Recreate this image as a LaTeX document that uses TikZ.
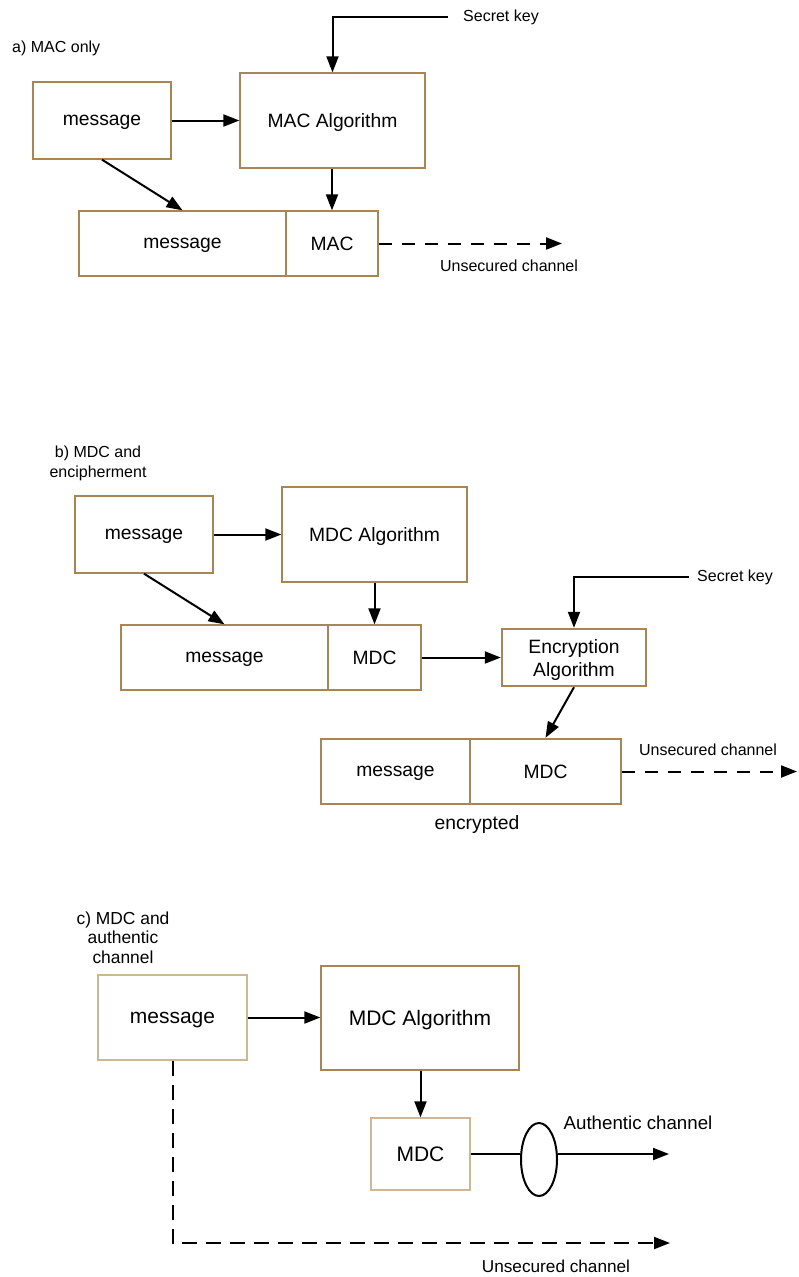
\documentclass[tikz,border=0pt]{standalone}
\usepackage{fontspec}
\setmainfont{Liberation Sans}
\usetikzlibrary{arrows.meta,shapes.geometric}
\definecolor{boxbrown}{RGB}{168,134,84}
\definecolor{boxtan}{RGB}{205,184,150}
\newcommand{\fbig}{\fontsize{19.3}{23}\selectfont}
\newcommand{\fhuge}{\fontsize{21}{25}\selectfont}
\newcommand{\fsmall}{\fontsize{16}{19.5}\selectfont}
\begin{document}
\begin{tikzpicture}[x=1pt,y=-1pt,
  box/.style={draw=boxbrown,line width=1.3pt,inner sep=0pt,font=\fbig,align=center,text depth=0pt},
  heavybox/.style={box,line width=2.4pt},
  flow/.style={draw=black,line width=2pt,-{Triangle[length=16pt,width=12pt]}},
  plain/.style={draw=black,line width=2pt},
  dashflow/.style={flow,dash pattern=on 13pt off 10pt},
  dashflowc/.style={flow,dash pattern=on 15pt off 9pt},
  note/.style={font=\fsmall,inner sep=0pt,align=center}]
\useasboundingbox (0,0) rectangle (798,1277);

% ---------- a) MAC only ----------
\node[note,anchor=west] (la) at (12,48) {a) MAC only};
\node[box,minimum width=138pt,minimum height=77pt] (amsg) at (102,120.5) {message};
\node[box,minimum width=185pt,minimum height=95pt] (aalg) at (332.5,120.5) {MAC Algorithm};
\node[box,minimum width=207pt,minimum height=65pt] (amsg2) at (182.5,243.5) {message};
\node[box,minimum width=92pt,minimum height=65pt] (amac) at (332,243.5) {MAC};
\coordinate (akey) at (448,17);
\node[note,anchor=west] (akeyt) at (463,17) {Secret key};
\draw[flow] (akey) -- (aalg.north |- akey) -- (aalg.north);
\draw[flow] (amsg) -- (aalg);
\draw[flow] (amsg.south) -- (amsg2.north);
\draw[flow] (aalg.south -| amac.north) -- (amac.north);
\coordinate (aout) at (562,243.5);
\draw[dashflow] (amac.east) -- (aout);
\node[note] (aunsec) at (509,266) {Unsecured channel};

% ---------- b) MDC and encipherment ----------
\node[note] (lb) at (98,463.5) {b) MDC and\\encipherment};
\node[box,minimum width=138pt,minimum height=77pt] (bmsg) at (144,534.5) {message};
\node[box,minimum width=185pt,minimum height=95pt] (balg) at (374.5,534.5) {MDC Algorithm};
\node[box,minimum width=207pt,minimum height=65pt] (bmsg2) at (224.5,657.5) {message};
\node[box,minimum width=93pt,minimum height=65pt] (bmdc) at (374.5,657.5) {MDC};
\node[heavybox,minimum width=144pt,minimum height=57pt] (benc) at (574,657.5)
  {\fontsize{19.3}{21}\selectfont Encryption\\Algorithm};
\node[heavybox,minimum width=149pt,minimum height=65pt] (bemsg) at (395.5,771.5) {message};
\node[heavybox,minimum width=151pt,minimum height=65pt] (bemdc) at (545.5,771.5) {MDC};
\coordinate (bkey) at (689,577);
\node[note,anchor=west] (bkeyt) at (697,577) {Secret key};
\draw[flow] (bkey) -- (benc.north |- bkey) -- (benc.north);
\draw[flow] (bmsg) -- (balg);
\draw[flow] (bmsg.south) -- (bmsg2.north);
\draw[flow] (balg.south) -- (bmdc.north);
\draw[flow] (bmdc.east) -- (benc.west);
\draw[flow] (benc.south) -- (bemdc.north);
\coordinate (bout) at (797,771.5);
\draw[dashflow] (bemdc.east) -- (bout);
\node[note] (bunsec) at (708,750) {Unsecured channel};
\node[font=\fbig,inner sep=0pt] (benct) at (477,824) {encrypted};

% ---------- c) MDC and authentic channel ----------
\node[note,font=\fontsize{17.4}{19.5}\selectfont] (lc) at (123,937.5) {c) MDC and\\authentic\\channel};
\node[box,draw=boxtan,minimum width=149pt,minimum height=85pt,font=\fhuge] (cmsg) at (172.5,1017.5) {message};
\node[box,minimum width=198pt,minimum height=104pt,font=\fhuge] (calg) at (420,1018) {MDC Algorithm};
\node[box,draw=boxtan,minimum width=99pt,minimum height=72pt,font=\fhuge] (cmdc) at (420.5,1154) {MDC};
\node[draw=black,line width=2pt,ellipse,minimum width=36pt,minimum height=73pt,inner sep=0pt] (cell) at (539,1159.5) {};
\draw[flow] (cmsg.east) -- (calg.west |- cmsg.east);
\draw[flow] (calg.south -| cmdc.north) -- (cmdc.north);
\draw[plain] (cmdc.east) -- (cmdc.east -| cell.west);
\coordinate (cauth) at (669,1154);
\draw[flow] (cmdc.east -| cell.east) -- (cauth);
\node[note,font=\fontsize{18.7}{22}\selectfont] (cautht) at (638,1123) {Authentic channel};
\coordinate (ccorner) at (172.5,1243);
\coordinate (cout) at (670,1243);
\draw[dashflowc] (cmsg.south) -- (ccorner) -- (cout);
\node[note,font=\fontsize{17.2}{20}\selectfont] (cunsec) at (556,1266) {Unsecured channel};
\end{tikzpicture}
\end{document}
